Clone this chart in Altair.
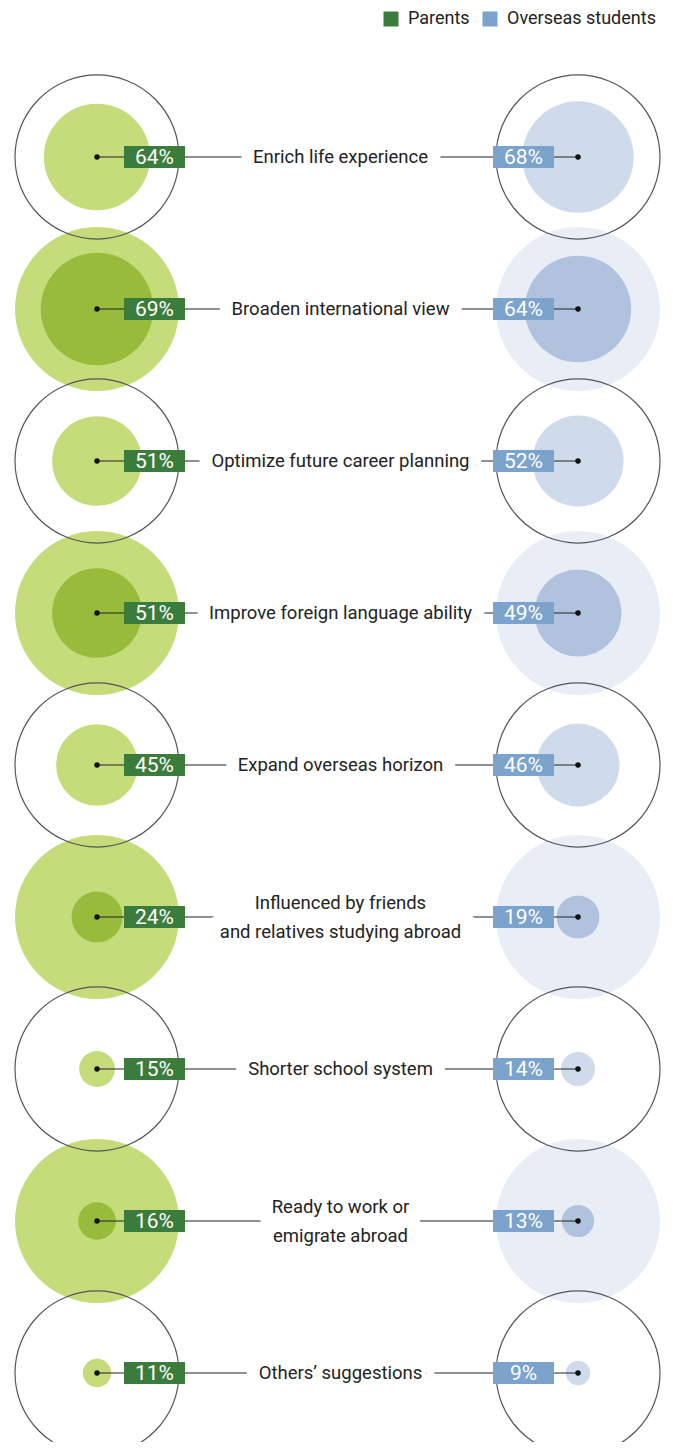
import altair as alt
import pandas as pd

# ---- data ----
reasons = [
    "Enrich life experience",
    "Broaden international view",
    "Optimize future career planning",
    "Improve foreign language ability",
    "Expand overseas horizon",
    "Influenced by friends\nand relatives studying abroad",
    "Shorter school system",
    "Ready to work or\nemigrate abroad",
    "Others\u2019 suggestions",
]
parents = [64, 69, 51, 51, 45, 24, 15, 16, 11]
students = [68, 64, 52, 49, 46, 19, 14, 13, 9]
sides = ["Parents", "Overseas students"]

rows = []
for i, r in enumerate(reasons):
    for s, v in zip(sides, [parents[i], students[i]]):
        rows.append({
            "reason": r,
            "side": s,
            "value": v,
            "pct": f"{v}%",
            "band": "filled" if i % 2 else "open",
        })
df = pd.DataFrame(rows)
df["tone"] = df["side"] + "|" + df["band"]
lab = pd.DataFrame({"reason": reasons})

FONT = "Roboto"
TEXT_COLOR = "#222222"
LABEL_SIZE = 18.5
LINE_H = 29

X_CIRCLE = alt.Scale(type="point", domain=sides, range=[89, 570], padding=0)
X_BOX = alt.Scale(type="point", domain=sides, range=[146.5, 515.5], padding=0)
Y = alt.Y("reason:N", axis=None,
          scale=alt.Scale(type="point", domain=reasons, range=[149, 1365], padding=0))
OUTER = 26896  # 164 px diameter

outer_fill = alt.Chart(df).transform_filter("datum.band == 'filled'").mark_circle(
    size=OUTER, opacity=1
).encode(
    x=alt.X("side:N", scale=X_CIRCLE, axis=None),
    y=Y,
    color=alt.Color("side:N", legend=None,
                    scale=alt.Scale(domain=sides, range=["#c5dc7b", "#e8edf6"])),
)

inner = alt.Chart(df).mark_circle(opacity=1).encode(
    x=alt.X("side:N", scale=X_CIRCLE, axis=None),
    y=Y,
    size=alt.Size("value:Q", legend=None,
                  scale=alt.Scale(type="pow", exponent=1.5, domain=[0, 100], range=[0, 22100])),
    color=alt.Color("tone:N", legend=None, scale=alt.Scale(
        domain=["Parents|open", "Parents|filled", "Overseas students|open", "Overseas students|filled"],
        range=["#c5dc7b", "#98bb3b", "#cfdaeb", "#b0c2dd"])),
)

outer_ring = alt.Chart(df).transform_filter("datum.band == 'open'").mark_point(
    shape="circle", filled=False, size=OUTER, color="#555555", strokeWidth=1.2, opacity=1
).encode(
    x=alt.X("side:N", scale=X_CIRCLE, axis=None),
    y=Y,
)

rule = alt.Chart(lab).mark_rule(color="#222222", strokeWidth=1.2).encode(
    x=alt.X(datum="Parents", type="nominal", scale=X_CIRCLE, axis=None),
    x2=alt.X2(datum="Overseas students"),
    y=Y,
)

SINGLE = "indexof(datum.reason, '\\n') < 0"
MULTI = "indexof(datum.reason, '\\n') >= 0"


def label_layer(flt, dy, **style):
    return alt.Chart(lab).transform_filter(flt).mark_text(
        font=FONT, fontSize=LABEL_SIZE, lineBreak="\n", lineHeight=LINE_H,
        align="center", baseline="middle", dy=dy, **style
    ).encode(x=alt.value(332.5), y=Y, text="reason:N")


layers = [outer_fill, inner, outer_ring, rule]
for flt, dy, wide in [(SINGLE, 0, 26), (MULTI, -LINE_H / 2, 30)]:
    # white halos interrupt the connecting line around the label text
    layers.append(label_layer(flt, dy, fill="white", stroke="white",
                              strokeWidth=wide, strokeJoin="round"))
    layers.append(label_layer(flt, dy, fill="white", stroke="white",
                              strokeWidth=9, strokeJoin="round"))
for flt, dy in [(SINGLE, 0), (MULTI, -LINE_H / 2)]:
    layers.append(label_layer(flt, dy, color=TEXT_COLOR))

dots = alt.Chart(df).mark_circle(size=30, color="#111111", opacity=1).encode(
    x=alt.X("side:N", scale=X_CIRCLE, axis=None),
    y=Y,
)

boxes = alt.Chart(df).mark_rect(width=61, height=22).encode(
    x=alt.X("side:N", scale=X_BOX, axis=None),
    y=Y,
    color=alt.Color("side:N", scale=alt.Scale(domain=sides, range=["#3b7b3b", "#7ba3cc"]),
                    legend=alt.Legend(title=None, orient="none", legendX=374, legendY=2,
                                      direction="horizontal", symbolType="square",
                                      symbolSize=225, symbolStrokeWidth=0,
                                      labelFontSize=18, labelFont=FONT,
                                      labelColor=TEXT_COLOR,
                                      labelOffset=8, columnPadding=11, padding=0)),
)

box_text = alt.Chart(df).mark_text(
    font=FONT, fontSize=21, color="white", align="center", baseline="middle", dy=1
).encode(
    x=alt.X("side:N", scale=X_BOX, axis=None),
    y=Y,
    text="pct:N",
)

layers += [dots, boxes, box_text]

chart = alt.layer(*layers).resolve_scale(
    x="independent", color="independent", size="independent"
).properties(
    width=657, height=1434, autosize="none", padding=0
).configure_view(stroke=None)

chart.save("out.html", embed_options={"renderer": "svg", "actions": False})
